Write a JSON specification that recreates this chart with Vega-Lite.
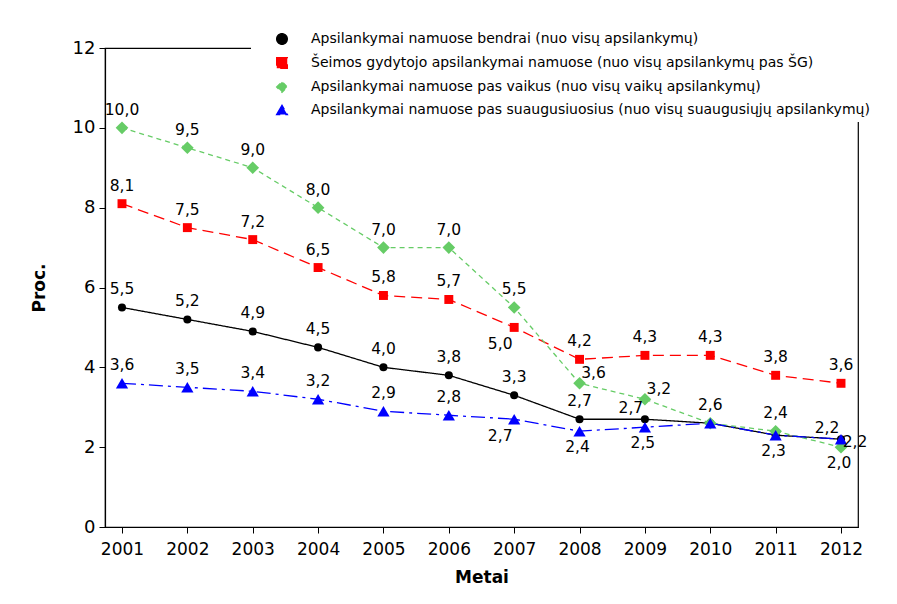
{
  "$schema": "https://vega.github.io/schema/vega-lite/v6.json",
  "width": 753,
  "height": 479,
  "autosize": "none",
  "padding": {"left": 105, "top": 48, "right": 39, "bottom": 77},
  "background": "white",
  "config": {
    "font": "DejaVu Sans",
    "view": {"stroke": "black", "strokeWidth": 1.2},
    "locale": {"number": {"decimal": ",", "thousands": ".", "grouping": [3], "currency": ["", " €"]}}
  },
  "data": {"values": [
    {"Metai": "2001", "k": "A", "Serija": "Apsilankymai namuose bendrai (nuo visų apsilankymų)", "v": 5.5},
    {"Metai": "2002", "k": "A", "Serija": "Apsilankymai namuose bendrai (nuo visų apsilankymų)", "v": 5.2},
    {"Metai": "2003", "k": "A", "Serija": "Apsilankymai namuose bendrai (nuo visų apsilankymų)", "v": 4.9},
    {"Metai": "2004", "k": "A", "Serija": "Apsilankymai namuose bendrai (nuo visų apsilankymų)", "v": 4.5},
    {"Metai": "2005", "k": "A", "Serija": "Apsilankymai namuose bendrai (nuo visų apsilankymų)", "v": 4.0},
    {"Metai": "2006", "k": "A", "Serija": "Apsilankymai namuose bendrai (nuo visų apsilankymų)", "v": 3.8},
    {"Metai": "2007", "k": "A", "Serija": "Apsilankymai namuose bendrai (nuo visų apsilankymų)", "v": 3.3},
    {"Metai": "2008", "k": "A", "Serija": "Apsilankymai namuose bendrai (nuo visų apsilankymų)", "v": 2.7},
    {"Metai": "2009", "k": "A", "Serija": "Apsilankymai namuose bendrai (nuo visų apsilankymų)", "v": 2.7},
    {"Metai": "2010", "k": "A", "Serija": "Apsilankymai namuose bendrai (nuo visų apsilankymų)", "v": 2.6},
    {"Metai": "2011", "k": "A", "Serija": "Apsilankymai namuose bendrai (nuo visų apsilankymų)", "v": 2.3},
    {"Metai": "2012", "k": "A", "Serija": "Apsilankymai namuose bendrai (nuo visų apsilankymų)", "v": 2.2},
    {"Metai": "2001", "k": "B", "Serija": "Šeimos gydytojo apsilankymai namuose (nuo visų apsilankymų pas ŠG)", "v": 8.1},
    {"Metai": "2002", "k": "B", "Serija": "Šeimos gydytojo apsilankymai namuose (nuo visų apsilankymų pas ŠG)", "v": 7.5},
    {"Metai": "2003", "k": "B", "Serija": "Šeimos gydytojo apsilankymai namuose (nuo visų apsilankymų pas ŠG)", "v": 7.2},
    {"Metai": "2004", "k": "B", "Serija": "Šeimos gydytojo apsilankymai namuose (nuo visų apsilankymų pas ŠG)", "v": 6.5},
    {"Metai": "2005", "k": "B", "Serija": "Šeimos gydytojo apsilankymai namuose (nuo visų apsilankymų pas ŠG)", "v": 5.8},
    {"Metai": "2006", "k": "B", "Serija": "Šeimos gydytojo apsilankymai namuose (nuo visų apsilankymų pas ŠG)", "v": 5.7},
    {"Metai": "2007", "k": "B", "Serija": "Šeimos gydytojo apsilankymai namuose (nuo visų apsilankymų pas ŠG)", "v": 5.0},
    {"Metai": "2008", "k": "B", "Serija": "Šeimos gydytojo apsilankymai namuose (nuo visų apsilankymų pas ŠG)", "v": 4.2},
    {"Metai": "2009", "k": "B", "Serija": "Šeimos gydytojo apsilankymai namuose (nuo visų apsilankymų pas ŠG)", "v": 4.3},
    {"Metai": "2010", "k": "B", "Serija": "Šeimos gydytojo apsilankymai namuose (nuo visų apsilankymų pas ŠG)", "v": 4.3},
    {"Metai": "2011", "k": "B", "Serija": "Šeimos gydytojo apsilankymai namuose (nuo visų apsilankymų pas ŠG)", "v": 3.8},
    {"Metai": "2012", "k": "B", "Serija": "Šeimos gydytojo apsilankymai namuose (nuo visų apsilankymų pas ŠG)", "v": 3.6},
    {"Metai": "2001", "k": "C", "Serija": "Apsilankymai namuose pas vaikus (nuo visų vaikų apsilankymų)", "v": 10.0},
    {"Metai": "2002", "k": "C", "Serija": "Apsilankymai namuose pas vaikus (nuo visų vaikų apsilankymų)", "v": 9.5},
    {"Metai": "2003", "k": "C", "Serija": "Apsilankymai namuose pas vaikus (nuo visų vaikų apsilankymų)", "v": 9.0},
    {"Metai": "2004", "k": "C", "Serija": "Apsilankymai namuose pas vaikus (nuo visų vaikų apsilankymų)", "v": 8.0},
    {"Metai": "2005", "k": "C", "Serija": "Apsilankymai namuose pas vaikus (nuo visų vaikų apsilankymų)", "v": 7.0},
    {"Metai": "2006", "k": "C", "Serija": "Apsilankymai namuose pas vaikus (nuo visų vaikų apsilankymų)", "v": 7.0},
    {"Metai": "2007", "k": "C", "Serija": "Apsilankymai namuose pas vaikus (nuo visų vaikų apsilankymų)", "v": 5.5},
    {"Metai": "2008", "k": "C", "Serija": "Apsilankymai namuose pas vaikus (nuo visų vaikų apsilankymų)", "v": 3.6},
    {"Metai": "2009", "k": "C", "Serija": "Apsilankymai namuose pas vaikus (nuo visų vaikų apsilankymų)", "v": 3.2},
    {"Metai": "2010", "k": "C", "Serija": "Apsilankymai namuose pas vaikus (nuo visų vaikų apsilankymų)", "v": 2.6},
    {"Metai": "2011", "k": "C", "Serija": "Apsilankymai namuose pas vaikus (nuo visų vaikų apsilankymų)", "v": 2.4},
    {"Metai": "2012", "k": "C", "Serija": "Apsilankymai namuose pas vaikus (nuo visų vaikų apsilankymų)", "v": 2.0},
    {"Metai": "2001", "k": "D", "Serija": "Apsilankymai namuose pas suaugusiuosius (nuo visų suaugusiųjų apsilankymų)", "v": 3.6},
    {"Metai": "2002", "k": "D", "Serija": "Apsilankymai namuose pas suaugusiuosius (nuo visų suaugusiųjų apsilankymų)", "v": 3.5},
    {"Metai": "2003", "k": "D", "Serija": "Apsilankymai namuose pas suaugusiuosius (nuo visų suaugusiųjų apsilankymų)", "v": 3.4},
    {"Metai": "2004", "k": "D", "Serija": "Apsilankymai namuose pas suaugusiuosius (nuo visų suaugusiųjų apsilankymų)", "v": 3.2},
    {"Metai": "2005", "k": "D", "Serija": "Apsilankymai namuose pas suaugusiuosius (nuo visų suaugusiųjų apsilankymų)", "v": 2.9},
    {"Metai": "2006", "k": "D", "Serija": "Apsilankymai namuose pas suaugusiuosius (nuo visų suaugusiųjų apsilankymų)", "v": 2.8},
    {"Metai": "2007", "k": "D", "Serija": "Apsilankymai namuose pas suaugusiuosius (nuo visų suaugusiųjų apsilankymų)", "v": 2.7},
    {"Metai": "2008", "k": "D", "Serija": "Apsilankymai namuose pas suaugusiuosius (nuo visų suaugusiųjų apsilankymų)", "v": 2.4},
    {"Metai": "2009", "k": "D", "Serija": "Apsilankymai namuose pas suaugusiuosius (nuo visų suaugusiųjų apsilankymų)", "v": 2.5},
    {"Metai": "2010", "k": "D", "Serija": "Apsilankymai namuose pas suaugusiuosius (nuo visų suaugusiųjų apsilankymų)", "v": 2.6},
    {"Metai": "2011", "k": "D", "Serija": "Apsilankymai namuose pas suaugusiuosius (nuo visų suaugusiųjų apsilankymų)", "v": 2.3},
    {"Metai": "2012", "k": "D", "Serija": "Apsilankymai namuose pas suaugusiuosius (nuo visų suaugusiųjų apsilankymų)", "v": 2.2}
  ]},
  "encoding": {
    "x": {
      "field": "Metai", "type": "ordinal",
      "scale": {"type": "point", "padding": 0.26},
      "axis": {"title": "Metai", "titleFontSize": 17, "titleFontWeight": "bold", "titleColor": "black", "titlePadding": 12,
               "labelFontSize": 17, "labelColor": "black", "labelAngle": 0, "labelPadding": 8,
               "tickColor": "black", "tickSize": 6, "domainColor": "black", "domainWidth": 1.2}
    },
    "y": {
      "field": "v", "type": "quantitative",
      "scale": {"domain": [0, 12], "nice": false},
      "axis": {"title": "Proc.", "titleFontSize": 17, "titleFontWeight": "bold", "titleColor": "black", "titlePadding": 24,
               "values": [0, 2, 4, 6, 8, 10, 12], "grid": false,
               "labelFontSize": 18, "labelColor": "black", "labelPadding": 4,
               "tickColor": "black", "tickSize": 6, "domainColor": "black", "domainWidth": 1.2}
    }
  },
  "layer": [
    {
      "mark": {"type": "line", "strokeWidth": 1.3},
      "encoding": {
        "color": {"field": "Serija", "type": "nominal",
          "scale": {"domain": [
            "Apsilankymai namuose bendrai (nuo visų apsilankymų)",
            "Šeimos gydytojo apsilankymai namuose (nuo visų apsilankymų pas ŠG)",
            "Apsilankymai namuose pas vaikus (nuo visų vaikų apsilankymų)",
            "Apsilankymai namuose pas suaugusiuosius (nuo visų suaugusiųjų apsilankymų)"],
            "range": ["#000000", "#FF0000", "#66CC66", "#0000FF"]},
          "legend": {"title": null, "orient": "none", "legendX": 146, "legendY": -20,
            "fillColor": "white", "padding": 4, "labelFontSize": 14, "labelColor": "black",
            "symbolOffset": 20, "labelOffset": 22, "rowPadding": 6, "labelLimit": 700, "symbolSize": 110}},
        "strokeDash": {"field": "Serija", "type": "nominal",
          "scale": {"domain": [
            "Apsilankymai namuose bendrai (nuo visų apsilankymų)",
            "Šeimos gydytojo apsilankymai namuose (nuo visų apsilankymų pas ŠG)",
            "Apsilankymai namuose pas vaikus (nuo visų vaikų apsilankymų)",
            "Apsilankymai namuose pas suaugusiuosius (nuo visų suaugusiųjų apsilankymų)"],
            "range": [[1, 0], [11, 6], [5, 4], [14, 5, 3, 5]]}}
      }
    },
    {
      "transform": [{"filter": "datum.k=='A'"}],
      "mark": {"type": "point", "filled": true, "opacity": 1, "size": 65},
      "encoding": {
        "color": {"field": "Serija", "type": "nominal"},
        "shape": {"field": "Serija", "type": "nominal",
          "scale": {"domain": [
            "Apsilankymai namuose bendrai (nuo visų apsilankymų)",
            "Šeimos gydytojo apsilankymai namuose (nuo visų apsilankymų pas ŠG)",
            "Apsilankymai namuose pas vaikus (nuo visų vaikų apsilankymų)",
            "Apsilankymai namuose pas suaugusiuosius (nuo visų suaugusiųjų apsilankymų)"],
            "range": ["circle", "square", "diamond", "triangle-up"]}}
      }
    },
    {
      "transform": [{"filter": "datum.k=='B'"}],
      "mark": {"type": "point", "filled": true, "opacity": 1, "size": 80},
      "encoding": {"color": {"field": "Serija", "type": "nominal"}, "shape": {"field": "Serija", "type": "nominal"}}
    },
    {
      "transform": [{"filter": "datum.k=='C'"}],
      "mark": {"type": "point", "filled": true, "opacity": 1, "size": 160},
      "encoding": {"color": {"field": "Serija", "type": "nominal"}, "shape": {"field": "Serija", "type": "nominal"}}
    },
    {
      "transform": [{"filter": "datum.k=='D'"}],
      "mark": {"type": "point", "filled": true, "opacity": 1, "size": 150},
      "encoding": {"color": {"field": "Serija", "type": "nominal"}, "shape": {"field": "Serija", "type": "nominal"}}
    },
    {
      "transform": [{"filter": "!((datum.k=='D' && indexof(['2007','2008','2009','2010','2011','2012'], datum.Metai) >= 0) || (datum.k=='C' && indexof(['2008','2009','2010','2012'], datum.Metai) >= 0) || (datum.k=='B' && datum.Metai=='2007') || (datum.k=='A' && indexof(['2009','2011','2012'], datum.Metai) >= 0))"}],
      "mark": {"type": "text", "fontSize": 15.5, "dy": -18, "color": "black"},
      "encoding": {"text": {"field": "v", "type": "quantitative", "format": ".1f"}}
    },
    {
      "transform": [{"filter": "(datum.k=='D' && indexof(['2008','2009','2011'], datum.Metai) >= 0) || (datum.k=='C' && datum.Metai=='2012')"}],
      "mark": {"type": "text", "fontSize": 15.5, "dy": 16, "dx": -2, "color": "black"},
      "encoding": {"text": {"field": "v", "type": "quantitative", "format": ".1f"}}
    },
    {
      "transform": [{"filter": "(datum.k=='D' || datum.k=='B') && datum.Metai=='2007'"}],
      "mark": {"type": "text", "fontSize": 15.5, "dy": 17, "dx": -14, "color": "black"},
      "encoding": {"text": {"field": "v", "type": "quantitative", "format": ".1f"}}
    },
    {
      "transform": [{"filter": "datum.k=='A' && indexof(['2009','2012'], datum.Metai) >= 0"}],
      "mark": {"type": "text", "fontSize": 15.5, "dy": -11, "dx": -14, "color": "black"},
      "encoding": {"text": {"field": "v", "type": "quantitative", "format": ".1f"}}
    },
    {
      "transform": [{"filter": "datum.k=='C' && indexof(['2008','2009'], datum.Metai) >= 0"}],
      "mark": {"type": "text", "fontSize": 15.5, "dy": -10, "dx": 14, "color": "black"},
      "encoding": {"text": {"field": "v", "type": "quantitative", "format": ".1f"}}
    },
    {
      "transform": [{"filter": "datum.k=='D' && datum.Metai=='2012'"}],
      "mark": {"type": "text", "fontSize": 15.5, "dy": 3, "dx": 14, "color": "black"},
      "encoding": {"text": {"field": "v", "type": "quantitative", "format": ".1f"}}
    }
  ]
}
